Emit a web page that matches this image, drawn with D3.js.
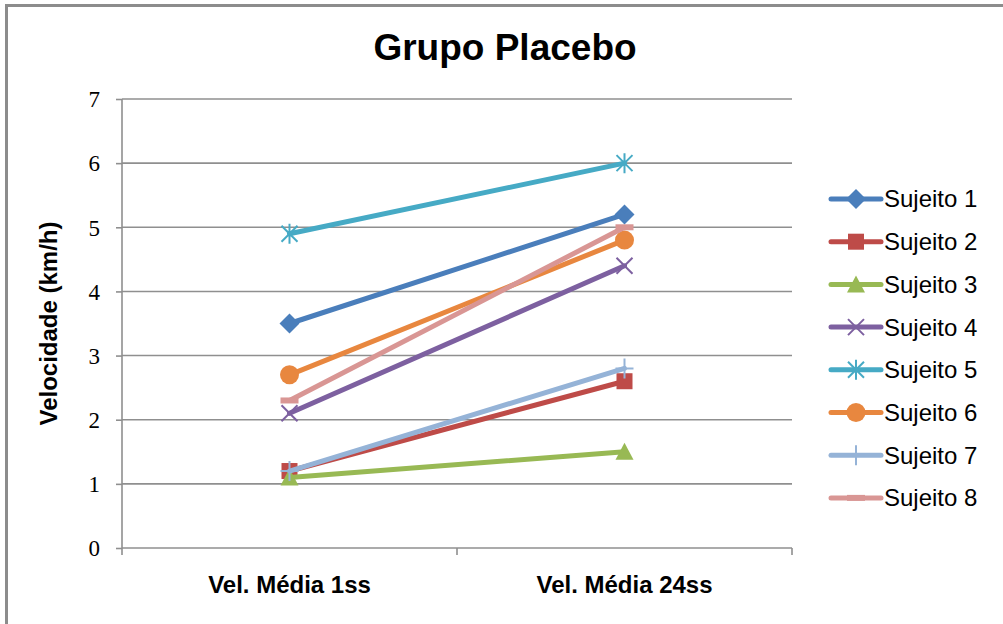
<!DOCTYPE html>
<html>
<head>
<meta charset="utf-8">
<script src="https://cdn.jsdelivr.net/npm/d3@7"></script>
<style>
  html, body { margin: 0; padding: 0; background: #fff; }
  svg { display: block; }
</style>
</head>
<body>
<svg id="chart" width="1003" height="624"></svg>
<script>
// Velocidade média por sujeito, grupo placebo
const categories = ["Vel. Média 1ss", "Vel. Média 24ss"];
const seriesNames = ["Sujeito 1", "Sujeito 2", "Sujeito 3", "Sujeito 4",
                     "Sujeito 5", "Sujeito 6", "Sujeito 7", "Sujeito 8"];
const sujeito1 = [3.5, 5.2];
const sujeito2 = [1.2, 2.6];
const sujeito3 = [1.1, 1.5];
const sujeito4 = [2.1, 4.4];
const sujeito5 = [4.9, 6.0];
const sujeito6 = [2.7, 4.8];
const sujeito7 = [1.2, 2.8];
const sujeito8 = [2.3, 5.0];
const yTicks = [0, 1, 2, 3, 4, 5, 6, 7];

const seriesValues = [sujeito1, sujeito2, sujeito3, sujeito4,
                      sujeito5, sujeito6, sujeito7, sujeito8];
const colors = ["#4a7ebb", "#be4b48", "#98b954", "#7d60a0",
                "#46aac5", "#e8873f", "#95b3d7", "#d99694"];
const markers = ["diamond", "square", "triangle", "x", "star", "circle", "plus", "dash"];

const svg = d3.select("#chart");

// outer frame
svg.append("rect")
  .attr("x", 6.5).attr("y", 5.5)
  .attr("width", 1100).attr("height", 700)
  .attr("fill", "#fff").attr("stroke", "#8c8c8c").attr("stroke-width", 3);

const plot = { left: 122, right: 792, top: 99, bottom: 548 };

const x = d3.scaleBand().domain(categories).range([plot.left, plot.right]).padding(0);
const cx = c => x(c) + x.bandwidth() / 2;
const y = d3.scaleLinear().domain([0, 7]).range([plot.bottom, plot.top]);

// horizontal gridlines
svg.append("g")
  .selectAll("line")
  .data(yTicks.filter(t => t > 0))
  .join("line")
  .attr("x1", plot.left).attr("x2", plot.right)
  .attr("y1", d => y(d)).attr("y2", d => y(d))
  .attr("stroke", "#8f8f8f").attr("stroke-width", 1.6);

// y axis
const yAxis = svg.append("g")
  .attr("transform", `translate(${plot.left},0)`)
  .call(d3.axisLeft(y).tickValues(yTicks).tickSize(6).tickPadding(16).tickFormat(d3.format("d")));
yAxis.select(".domain").attr("stroke", "#8f8f8f").attr("stroke-width", 1.6).attr("d", `M0,${plot.top}V${plot.bottom}`);
yAxis.selectAll(".tick line").attr("stroke", "#8f8f8f").attr("stroke-width", 1.6);
yAxis.selectAll(".tick text")
  .attr("font-family", "'Liberation Serif', 'DejaVu Serif', serif")
  .attr("font-size", 23).attr("fill", "#000").attr("dy", "0.34em");

// x axis
const xAxis = svg.append("g")
  .attr("transform", `translate(0,${plot.bottom})`)
  .call(d3.axisBottom(x).tickSize(0).tickPadding(28));
xAxis.select(".domain").attr("stroke", "#8f8f8f").attr("stroke-width", 1.6).attr("d", `M${plot.left},0H${plot.right}`);
xAxis.selectAll(".tick text")
  .attr("font-family", "'Liberation Sans', Arial, sans-serif")
  .attr("font-weight", "bold").attr("font-size", 24).attr("fill", "#000");
// category boundary ticks
const bounds = categories.map(c => x(c)).concat([x(categories[categories.length - 1]) + x.bandwidth()]);
xAxis.selectAll("line.bound")
  .data(bounds)
  .join("line")
  .attr("class", "bound")
  .attr("x1", d => d).attr("x2", d => d)
  .attr("y1", 0).attr("y2", 7)
  .attr("stroke", "#8f8f8f").attr("stroke-width", 1.6);

// titles
svg.append("text")
  .attr("x", 505).attr("y", 60)
  .attr("text-anchor", "middle")
  .attr("font-family", "'Liberation Sans', Arial, sans-serif")
  .attr("font-weight", "bold").attr("font-size", 37)
  .text("Grupo Placebo");

svg.append("text")
  .attr("transform", `translate(57,${(plot.top + plot.bottom) / 2}) rotate(-90)`)
  .attr("text-anchor", "middle")
  .attr("font-family", "'Liberation Sans', Arial, sans-serif")
  .attr("font-weight", "bold").attr("font-size", 24)
  .text("Velocidade (km/h)");

// marker shapes, drawn at the origin
function drawMarker(g, type, color) {
  const r = 9;
  if (type === "diamond") {
    g.append("path").attr("d", `M0,${-r - 1}L${r + 1},0L0,${r + 1}L${-r - 1},0Z`).attr("fill", color);
  } else if (type === "square") {
    g.append("rect").attr("x", -8).attr("y", -8).attr("width", 16).attr("height", 16).attr("fill", color);
  } else if (type === "triangle") {
    g.append("path").attr("d", `M0,${-r}L${r},${r - 1}L${-r},${r - 1}Z`).attr("fill", color);
  } else if (type === "circle") {
    g.append("circle").attr("r", 9.5).attr("fill", color);
  } else if (type === "x") {
    g.append("path").attr("d", `M-8,-8L8,8M8,-8L-8,8`).attr("stroke", color).attr("stroke-width", 2).attr("fill", "none");
  } else if (type === "star") {
    g.append("path").attr("d", `M-8,-8L8,8M8,-8L-8,8M0,-10V10`).attr("stroke", color).attr("stroke-width", 2).attr("fill", "none");
  } else if (type === "plus") {
    g.append("path").attr("d", `M-9,0H9M0,-10V10`).attr("stroke", color).attr("stroke-width", 2).attr("fill", "none");
  } else if (type === "dash") {
    g.append("rect").attr("x", -9).attr("y", -3).attr("width", 18).attr("height", 6).attr("fill", color);
  }
}

// series lines with markers
const line = d3.line().x(d => cx(d.cat)).y(d => y(d.v));
seriesValues.forEach((vals, i) => {
  const pts = vals.map((v, j) => ({ cat: categories[j], v }));
  const g = svg.append("g").attr("class", "series");
  g.append("path")
    .datum(pts)
    .attr("d", line)
    .attr("fill", "none")
    .attr("stroke", colors[i])
    .attr("stroke-width", 5)
    .attr("stroke-linecap", "round");
  pts.forEach(p => {
    const mg = g.append("g").attr("transform", `translate(${cx(p.cat)},${y(p.v)})`);
    drawMarker(mg, markers[i], colors[i]);
  });
});

// legend
const legend = svg.append("g").attr("transform", "translate(830,199)");
seriesNames.forEach((name, i) => {
  const row = legend.append("g").attr("transform", `translate(0,${i * 42.7})`);
  row.append("line").attr("x1", 1).attr("x2", 51).attr("y1", 0).attr("y2", 0)
    .attr("stroke", colors[i]).attr("stroke-width", 5).attr("stroke-linecap", "round");
  const mg = row.append("g").attr("transform", "translate(26,0)");
  drawMarker(mg, markers[i], colors[i]);
  row.append("text").attr("x", 54).attr("y", 0).attr("dy", "0.35em")
    .attr("font-family", "'Liberation Sans', Arial, sans-serif")
    .attr("font-size", 24).attr("fill", "#000")
    .text(name);
});
</script>
</body>
</html>
